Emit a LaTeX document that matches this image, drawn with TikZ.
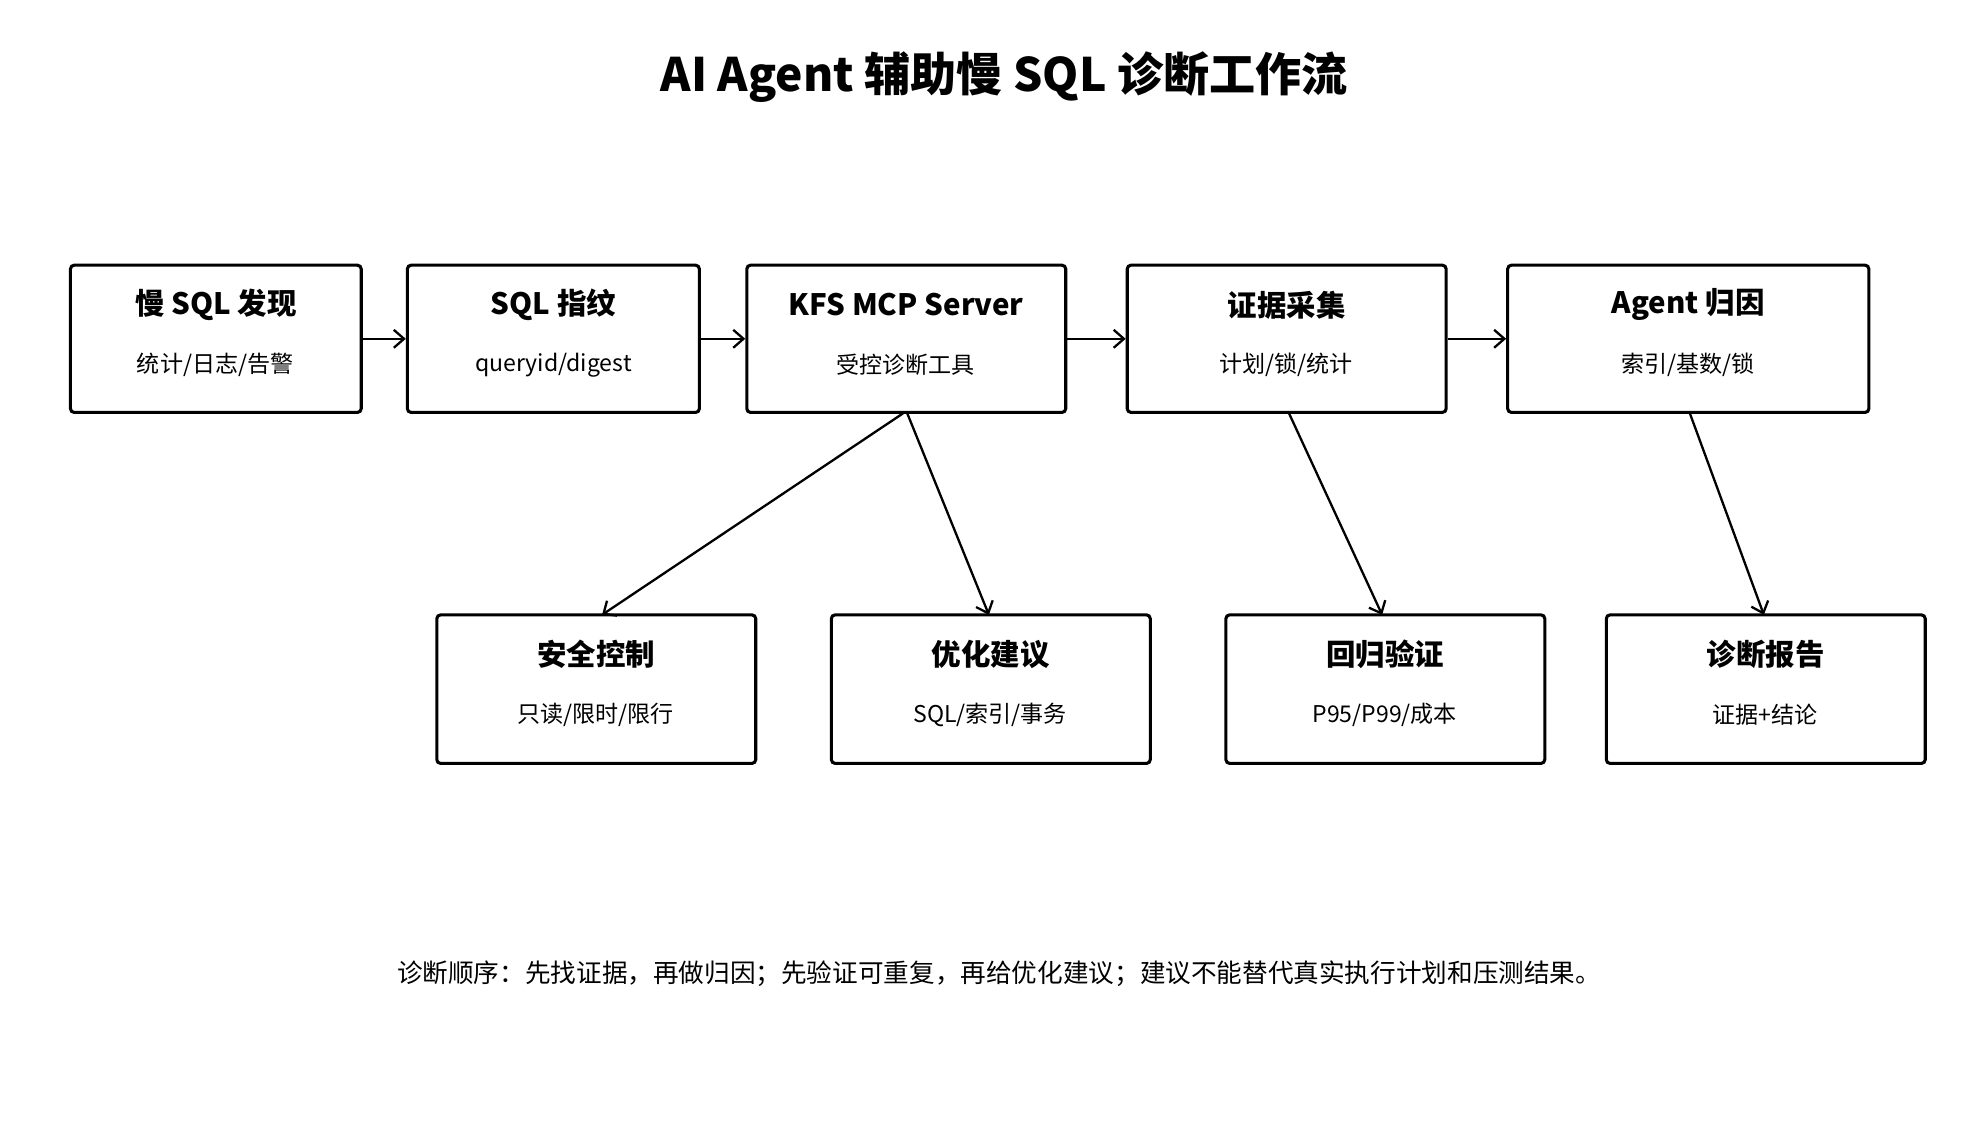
\documentclass[tikz,border=0pt]{standalone}
\usepackage{fontspec}
\setmainfont{Noto Sans CJK SC}
\usetikzlibrary{arrows.meta}
\begin{document}
\begin{tikzpicture}[x=0.5pt,y=-0.5pt,
 box/.style={draw,line width=1.2pt,rounded corners=1.5pt},
 ttl/.style={font=\bfseries\fontsize{11.5}{13}\selectfont},
 sub/.style={font=\fontsize{9}{11}\selectfont},
 arr/.style={-{Straight Barb[length=4pt,width=7pt]},line width=0.9pt}]
\useasboundingbox (0,0) rectangle (1552,893);
\node[font=\bfseries\fontsize{18}{22}\selectfont] (title) at (784,60) {AI Agent 辅助慢 SQL 诊断工作流};
\def\mk#1#2#3#4#5#6{%
 \node[box,minimum width={(#3-#2)*0.5pt},minimum height={(#5-#4)*0.5pt}] (#1) at ({(#2+#3)/2},{(#4+#5)/2}) {};
 \node[ttl] at ({(#2+#3)/2},{#4+31}) {#6};}
\mk{a}{55}{282}{207}{322}{慢 SQL 发现}
\node[sub] at (168,285) {统计/日志/告警};
\mk{b}{318}{546}{207}{322}{SQL 指纹}
\node[sub] at (432,285) {queryid/digest};
\mk{c}{583}{832}{207}{322}{KFS MCP Server}
\node[sub] at (707,285) {受控诊断工具};
\mk{d}{880}{1129}{207}{322}{证据采集}
\node[sub] at (1004,285) {计划/锁/统计};
\mk{e}{1177}{1459}{207}{322}{Agent 归因}
\node[sub] at (1318,285) {索引/基数/锁};
\mk{f}{341}{590}{480}{596}{安全控制}
\node[sub] at (465,558) {只读/限时/限行};
\mk{g}{649}{898}{480}{596}{优化建议}
\node[sub] at (773,558) {SQL/索引/事务};
\mk{h}{957}{1206}{480}{596}{回归验证}
\node[sub] at (1081,558) {P95/P99/成本};
\mk{i}{1254}{1503}{480}{596}{诊断报告}
\node[sub] at (1378,558) {证据+结论};
\draw[arr] (a.east) -- (b.west);
\draw[arr] (b.east) -- (c.west);
\draw[arr] (c.east) -- (d.west);
\draw[arr] (d.east) -- (e.west);
\draw[arr] (706,322) -- (470,480);
\draw[arr] (708,322) -- (772,480);
\draw[arr] (1006,322) -- (1079,480);
\draw[arr] (1319,322) -- (1377,480);
\node[font=\fontsize{10}{12}\selectfont] (foot) at (780,760) {诊断顺序：先找证据，再做归因；先验证可重复，再给优化建议；建议不能替代真实执行计划和压测结果。};
\end{tikzpicture}
\end{document}
